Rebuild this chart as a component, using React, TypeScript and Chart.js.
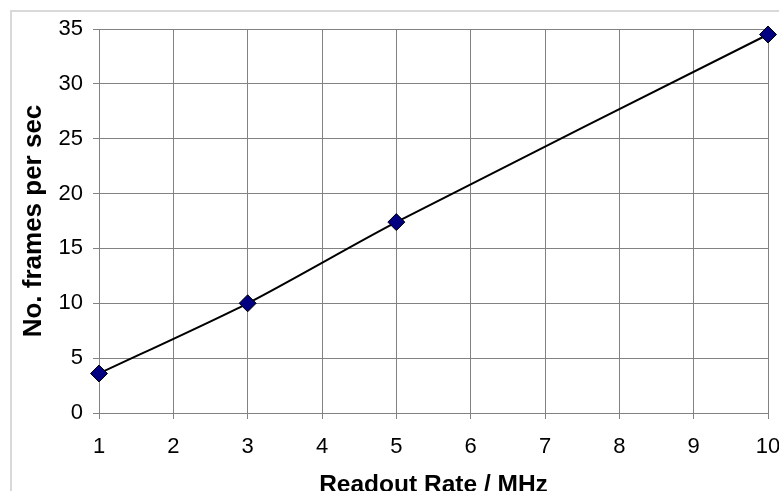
import React, { useEffect, useRef } from "react";
import { Chart, registerables } from "chart.js";

Chart.register(...registerables);

// Data
const readoutRates = [1, 3, 5, 10]; // MHz
const framesPerSec = [3.6, 10, 17.4, 34.5];
const xTitle = "Readout Rate / MHz";
const yTitle = "No. frames per sec";

const W = 779;
const H = 502;
const FONT = "'Liberation Sans', Arial, sans-serif";
const GRID = "#828282";

export default function App() {
  const ref = useRef<HTMLCanvasElement>(null);

  useEffect(() => {
    if (!ref.current) return;
    const chart = new Chart(ref.current, {
      type: "line",
      data: {
        datasets: [
          {
            data: readoutRates.map((x, i) => ({ x, y: framesPerSec[i] })),
            borderColor: "#000",
            borderWidth: 2,
            tension: 0.25,
            fill: false,
            pointStyle: "rectRot",
            pointRadius: 8.5,
            pointBackgroundColor: "#000080",
            pointBorderColor: "#000",
            pointBorderWidth: 1,
            clip: false as any,
          },
        ],
      },
      options: {
        responsive: false,
        animation: false,
        layout: { padding: { left: 0, top: 29, right: 11, bottom: 0 } },
        plugins: {
          legend: { display: false },
          tooltip: { enabled: false },
        },
        scales: {
          x: {
            type: "linear",
            min: 1,
            max: 10,
            ticks: {
              stepSize: 1,
              autoSkip: false,
              maxRotation: 0,
              padding: 15,
              color: "#000",
              font: { family: FONT, size: 22 },
            },
            grid: { color: GRID, lineWidth: 1, tickLength: 6, drawTicks: true },
            border: { display: true, color: GRID, width: 1 },
            title: {
              display: true,
              text: xTitle,
              color: "#000",
              font: { family: FONT, size: 24.5, weight: "bold" },
              padding: { top: 0, bottom: 2.5 },
            },
            afterFit: (s: any) => {
              s.height = H - 413;
              s.paddingLeft = 0;
              s.paddingRight = 0;
            },
          },
          y: {
            type: "linear",
            min: 0,
            max: 35,
            ticks: {
              stepSize: 5,
              padding: 10,
              color: "#000",
              font: { family: FONT, size: 22 },
            },
            grid: { color: GRID, lineWidth: 1, tickLength: 6, drawTicks: true },
            border: { display: true, color: GRID, width: 1 },
            title: {
              display: true,
              text: yTitle,
              color: "#000",
              font: { family: FONT, size: 26, weight: "bold" },
              padding: { top: 18, bottom: 0 },
            },
            afterFit: (s: any) => {
              s.width = 99;
              s.paddingTop = 0;
              s.paddingBottom = 0;
            },
          },
        },
      },
    });
    return () => chart.destroy();
  }, []);

  return (
    <div
      style={{
        position: "fixed",
        left: 0,
        top: 0,
        width: W,
        height: 491,
        overflow: "hidden",
        background: "#fff",
      }}
    >
      <div
        style={{
          position: "absolute",
          left: 10,
          top: 10,
          width: W,
          height: H,
          borderTop: "2px solid #d9d9d9",
          borderLeft: "2px solid #d9d9d9",
        }}
      />
      <canvas
        ref={ref}
        width={W}
        height={H}
        style={{ position: "absolute", left: 0, top: 0, width: W, height: H, display: "block" }}
      />
    </div>
  );
}
